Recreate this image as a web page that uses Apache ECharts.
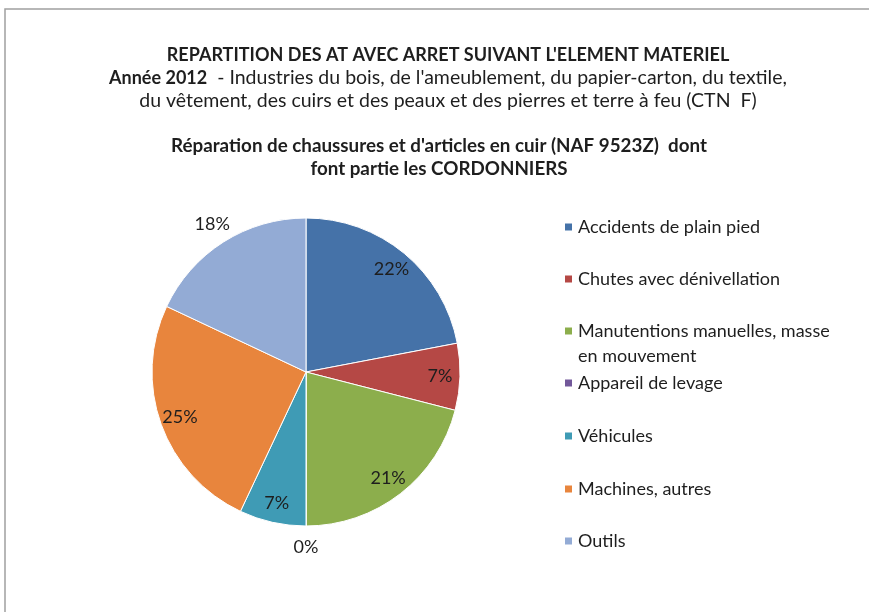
<!DOCTYPE html>
<html>
<head>
<meta charset="utf-8">
<script src="https://cdn.jsdelivr.net/npm/echarts@6/dist/echarts.min.js"></script>
<style>
html,body{margin:0;padding:0;background:#fff;}
#main{width:869px;height:612px;}
</style>
</head>
<body>
<div id="main"></div>
<script>
const titleLines = [
  "REPARTITION DES AT AVEC ARRET SUIVANT L'ELEMENT MATERIEL",
  "Année 2012",
  "  - Industries du bois, de l'ameublement, du papier-carton, du textile,",
  "du vêtement, des cuirs et des peaux et des pierres et terre à feu (CTN  F)"
];
const subtitleLines = [
  "Réparation de chaussures et d'articles en cuir (NAF 9523Z)  dont",
  "font partie les CORDONNIERS"
];
const categories = [
  "Accidents de plain pied",
  "Chutes avec dénivellation",
  "Manutentions manuelles, masse en mouvement",
  "Appareil de levage",
  "Véhicules",
  "Machines, autres",
  "Outils"
];
const values = [22, 7, 21, 0, 7, 25, 18];
const legendLabels = [
  "Accidents de plain pied",
  "Chutes avec dénivellation",
  "Manutentions manuelles, masse\nen mouvement",
  "Appareil de levage",
  "Véhicules",
  "Machines, autres",
  "Outils"
];

const colors = ['#4572a8', '#b54845', '#8cae4c', '#72589a', '#3f9bb5', '#e8853d', '#93abd5'];
const outside = [false, false, false, true, false, false, true];
const FONT = 'Lato';
const TXT = '#1e1e1e';

const chart = echarts.init(document.getElementById('main'));

const mainData = categories.map((c, i) => ({ name: c, value: values[i], itemStyle: { color: colors[i] } }));
const innerLabelData = categories.map((c, i) => ({ name: c, value: values[i], label: { show: !outside[i] } }));
const outerLabelData = categories.map((c, i) => ({ name: c, value: values[i], label: { show: outside[i] } }));

const legendCenters = [227, 279, 331, 383, 436, 489, 541];
const LH = 25;
const legends = categories.map((c, i) => {
  const multi = legendLabels[i].indexOf('\n') >= 0;
  return {
    data: [c],
    orient: 'vertical',
    left: 563,
    top: multi ? legendCenters[i] - 1.5 * LH : legendCenters[i] - LH / 2,
    padding: 0,
    itemWidth: 9,
    itemHeight: 9,
    icon: 'rect',
    selectedMode: false,
    formatter: () => multi ? ' \n' + legendLabels[i] : legendLabels[i],
    textStyle: { fontFamily: FONT, fontSize: 18, color: TXT, lineHeight: LH }
  };
});

const labelCommon = { fontFamily: FONT, fontSize: 18, color: TXT, formatter: p => p.value + '%' };
const ghost = {
  type: 'pie', center: [306, 372], startAngle: 90, clockwise: true,
  silent: true, animation: false,
  itemStyle: { color: 'rgba(0,0,0,0)', borderWidth: 0 },
  emphasis: { disabled: true },
  labelLine: { show: false },
  avoidLabelOverlap: false
};

chart.setOption({
  backgroundColor: '#fff',
  animation: false,
  graphic: [{
    type: 'rect', silent: true, z: -10,
    shape: { x: 5, y: 9, width: 900, height: 700 },
    style: { fill: '#fff', stroke: '#a0a0a0', lineWidth: 1.5 }
  }],
  title: [{
    text: '{b|' + titleLines[0] + '}\n{b|' + titleLines[1] + '}{n|' + titleLines[2] + '}\n{n|' + titleLines[3] + '}',
    left: 448,
    textAlign: 'center',
    top: 44,
    padding: 0,
    textStyle: {
      fontWeight: 'normal',
      rich: {
        b: { fontFamily: FONT, fontSize: 18, fontWeight: 'bold', color: TXT, lineHeight: 22.5 },
        n: { fontFamily: FONT, fontSize: 19.5, fontWeight: 'normal', color: TXT, lineHeight: 22.5 }
      }
    }
  }, {
    text: '{b|' + subtitleLines[0] + '}\n{b|' + subtitleLines[1] + '}',
    left: 439,
    textAlign: 'center',
    top: 134,
    padding: 0,
    textStyle: {
      fontWeight: 'normal',
      rich: {
        b: { fontFamily: FONT, fontSize: 18.8, fontWeight: 'bold', color: TXT, lineHeight: 23 }
      }
    }
  }],
  legend: legends,
  series: [{
    type: 'pie',
    name: 'main',
    radius: 154,
    center: [306, 372],
    startAngle: 90,
    clockwise: true,
    data: mainData,
    label: { show: false },
    labelLine: { show: false },
    itemStyle: { borderColor: '#fff', borderWidth: 1 },
    emphasis: { disabled: true }
  }, Object.assign({}, ghost, {
    radius: [108, 154],
    data: innerLabelData,
    label: Object.assign({ position: 'inside' }, labelCommon)
  }), Object.assign({}, ghost, {
    radius: [154, 190],
    data: outerLabelData,
    label: Object.assign({ position: 'inside' }, labelCommon)
  })]
});
</script>
</body>
</html>
